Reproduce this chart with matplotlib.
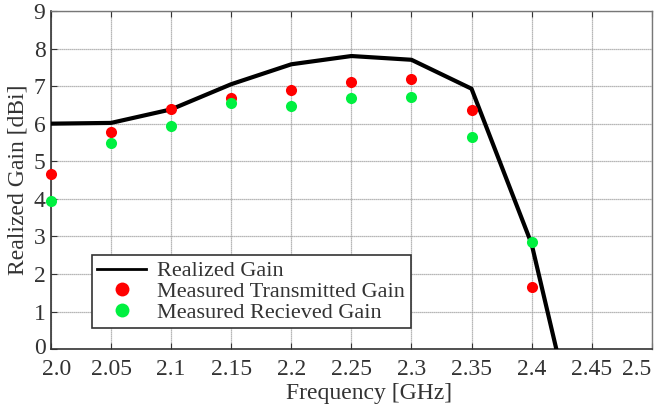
import numpy as np
import matplotlib
matplotlib.use("Agg")
import matplotlib.pyplot as plt
import matplotlib.transforms as mtransforms
from matplotlib.lines import Line2D

plt.rcParams['font.family'] = ['Liberation Serif', 'DejaVu Serif']

# Simulated realized gain (line)
freq_sim = [2.0, 2.05, 2.1, 2.15, 2.2, 2.25, 2.3, 2.35, 2.4, 2.425]
gain_sim = [6.0, 6.02, 6.38, 7.05, 7.58, 7.8, 7.7, 6.93, 2.8, -0.6]

# Measured points
freq_meas = [2.0, 2.05, 2.1, 2.15, 2.2, 2.25, 2.3, 2.35, 2.4]
gain_tx = [4.65, 5.77, 6.4, 6.68, 6.9, 7.1, 7.2, 6.36, 1.66]
gain_rx = [3.93, 5.48, 5.94, 6.55, 6.47, 6.68, 6.71, 5.64, 2.84]

xticks = [2.0, 2.05, 2.1, 2.15, 2.2, 2.25, 2.3, 2.35, 2.4, 2.45, 2.5]
xtick_labels = ['2.0', '2.05', '2.1', '2.15', '2.2', '2.25', '2.3', '2.35', '2.4', '2.45', '2.5']

red = '#ff0000'
green = '#00f040'
ink = '#333333'

fig = plt.figure(figsize=(6.58, 4.05), dpi=100)
ax = fig.add_axes([0.0775, 0.138, 0.913, 0.835])

ax.plot(freq_sim, gain_sim, color='black', lw=3.0, zorder=3)
ax.plot(freq_meas, gain_tx, 'o', color=red, ms=8, mec='none',
        zorder=4, clip_on=False)
ax.plot(freq_meas, gain_rx, 'o', color=green, ms=8, mec='none',
        zorder=4, clip_on=False)

ax.set_xlim(2.0, 2.5)
ax.set_ylim(0, 9)
ax.set_xticks(xticks)
ax.set_xticklabels(xtick_labels)
ax.set_yticks(range(0, 10))

ax.grid(True, color='#a0a0a0', lw=0.9, ls=(0, (1, 0.6)))
ax.set_axisbelow(True)
ax.tick_params(axis='both', direction='in', labelsize=17, length=4,
               top=True, pad=4, colors=ink)
ax.tick_params(axis='x', pad=7)
for side in ['left', 'bottom']:
    ax.spines[side].set_color(ink)
    ax.spines[side].set_linewidth(1.2)
for side in ['top', 'right']:
    ax.spines[side].set_color('#777777')
    ax.spines[side].set_linewidth(1.0)

# nudge the corner labels so they don't collide / get clipped
xlabels = ax.get_xticklabels()
xlabels[0].set_transform(xlabels[0].get_transform()
                         + mtransforms.ScaledTranslation(0.06, 0, fig.dpi_scale_trans))
xlabels[-1].set_horizontalalignment('right')
ylabels = ax.get_yticklabels()
ylabels[0].set_transform(ylabels[0].get_transform()
                         + mtransforms.ScaledTranslation(0, 0.03, fig.dpi_scale_trans))

ax.set_xlabel('Frequency [GHz]', fontsize=17, color=ink)
ax.xaxis.set_label_coords(0.53, -0.1)
ax.set_ylabel('Realized Gain [dBi]', fontsize=17, color=ink, labelpad=4)

handles = [
    Line2D([], [], color='black', lw=2.0),
    Line2D([], [], ls='none', marker='o', color=red, ms=10, mec='none'),
    Line2D([], [], ls='none', marker='o', color=green, ms=10, mec='none'),
]
labels = ['Realized Gain', 'Measured Transmitted Gain', 'Measured Recieved Gain']
leg = ax.legend(handles, labels, loc='lower left',
                bbox_to_anchor=(0.068, 0.062), fontsize=16,
                frameon=True, fancybox=False, framealpha=1,
                handlelength=2.2, handletextpad=0.5, borderpad=0.25,
                labelspacing=0.0, borderaxespad=0)
leg.get_frame().set_edgecolor(ink)
leg.get_frame().set_linewidth(1.2)
for t in leg.get_texts():
    t.set_color(ink)

fig.savefig('out.png', dpi=100)
